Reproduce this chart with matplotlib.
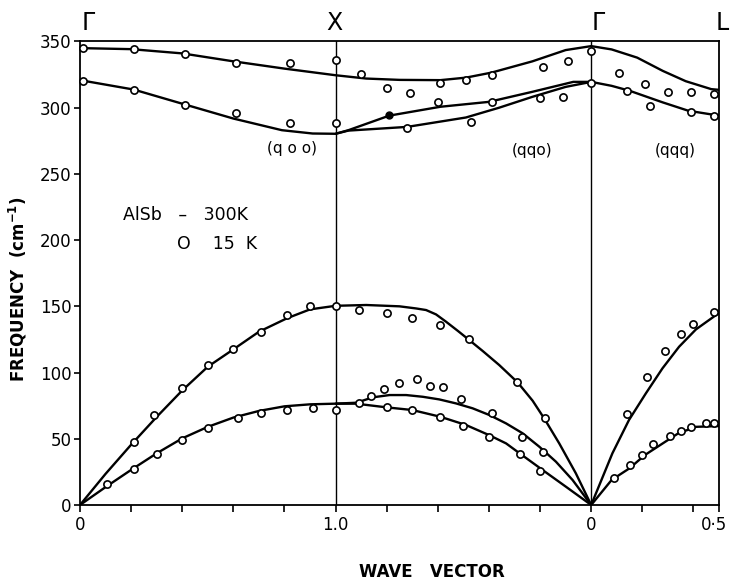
import matplotlib
matplotlib.use("Agg")
import matplotlib.pyplot as plt
from matplotlib.transforms import ScaledTranslation

# wave vector axis: Gamma=0, X=1, Gamma=2, L=2.5
# ---- calculated curves ----
opt_up_x = [0, 0.2, 0.4, 0.6, 0.8, 1.0, 1.12, 1.25, 1.41, 1.51, 1.61, 1.77, 1.9, 2.0,
            2.08, 2.18, 2.28, 2.37, 2.47, 2.5]
opt_up_f = [345, 344.2, 341, 335, 329.5, 324.5, 322, 321, 320.8, 322.7, 326.5, 335, 343.5, 346.5,
            344, 337.8, 327.8, 320, 314, 313.5]

opt_lo_x = [0, 0.21, 0.4, 0.6, 0.79, 0.91, 1.0, 1.05, 1.28, 1.51, 1.64, 1.77, 1.9, 2.0,
            2.08, 2.15, 2.28, 2.38, 2.5]
opt_lo_f = [320.8, 313.7, 303, 291.8, 283, 280.5, 280.3, 282.7, 285.5, 292.6, 300, 308.2, 315.7, 319.5,
            316.5, 312.8, 304, 297.7, 294]

opt_a_x = [1.0, 1.05, 1.21, 1.41, 1.6, 1.77, 1.93, 2.0]
opt_a_f = [280.3, 283, 294, 300.7, 304.4, 312, 319.5, 319.5]

la_x = [0, 0.1, 0.2, 0.3, 0.4, 0.5, 0.6, 0.7, 0.81, 0.9, 1.0, 1.12, 1.25, 1.315, 1.354, 1.393,
        1.432, 1.478, 1.52, 1.576, 1.64, 1.712, 1.771, 1.816, 1.875, 1.94, 2.0,
        2.083, 2.148, 2.214, 2.279, 2.344, 2.41, 2.5]
la_f = [0, 23.5, 45.5, 66.5, 86.5, 104.4, 117.5, 130.8, 141, 147.7, 150.4, 151, 150, 148.4, 147.2, 143.9,
        138.4, 131.5, 125, 116.2, 105.7, 92.6, 78.7, 65.4, 46.5, 23.9, 0,
        39, 64.2, 84.3, 103.2, 119.5, 132.6, 145]

ta_x = [0, 0.1, 0.2, 0.3, 0.4, 0.5, 0.6, 0.7, 0.8, 0.9, 1.0, 1.08, 1.2, 1.3, 1.41, 1.51,
        1.6, 1.667, 1.72, 1.81, 1.901, 2.0, 2.08, 2.15, 2.21, 2.28, 2.34, 2.41, 2.5]
ta_f = [0, 13.5, 26.5, 39, 50.3, 59, 66, 71, 74.5, 76, 76.5, 76.5, 73.7, 71.7, 66.6, 60.4,
        52.8, 46.5, 39, 26.4, 13.8, 0, 18.9, 27.7, 37.7, 46.5, 54, 59, 59.6]

ta2_x = [1.0, 1.081, 1.146, 1.211, 1.276, 1.341, 1.406, 1.471, 1.536, 1.602, 1.667,
         1.732, 1.797, 1.862, 1.927, 2.0]
ta2_f = [76.5, 77.2, 81.3, 83, 83, 81.7, 79.7, 76.7, 73, 67.9, 61.6,
         54.1, 44, 32.7, 18.9, 0]

# ---- measured points at 15 K ----
pts_x = [0.01, 0.21, 0.41, 0.61, 0.82, 1.0,
         1.10, 1.20, 1.29, 1.41, 1.51, 1.61, 1.81, 1.91, 2.0,
         2.11, 2.21, 2.30, 2.39, 2.48,
         0.01, 0.21, 0.41, 0.61, 0.82, 1.0,
         1.28, 1.40, 1.53, 1.61, 1.80, 1.89, 2.0,
         2.14, 2.23, 2.39, 2.48,
         0.21, 0.29, 0.40, 0.50, 0.60, 0.71, 0.81, 0.90, 1.0,
         1.09, 1.20, 1.30, 1.41, 1.52, 1.71, 1.82,
         2.14, 2.22, 2.29, 2.35, 2.40, 2.48,
         0.105, 0.21, 0.30, 0.40, 0.50, 0.62, 0.71, 0.81, 0.91, 1.0,
         1.09, 1.20, 1.30, 1.41, 1.50, 1.60, 1.72, 1.80,
         1.14, 1.19, 1.25, 1.32, 1.37, 1.42, 1.49, 1.61, 1.73, 1.81,
         2.09, 2.15, 2.20, 2.24, 2.31, 2.35, 2.39, 2.45, 2.48]
pts_f = [344.7, 344, 340.2, 334.1, 333.8, 335.8,
         325.8, 314.8, 310.8, 319, 321, 325, 330.8, 335, 342.8,
         326.5, 318, 311.5, 312, 310,
         320.2, 313.2, 302.4, 296, 288.5, 288.5,
         284.4, 304, 289.5, 304, 307, 308, 319,
         312.8, 301, 296.5, 294,
         47.3, 67.7, 88, 105.4, 117.5, 130.6, 143.2, 150.4, 150.2,
         147.2, 144.7, 141, 135.8, 125, 92.6, 65.4,
         69, 96.8, 116, 128.8, 137, 145.9,
         15.8, 27.2, 38.5, 49.3, 58.3, 65.7, 69.7, 71.5, 73, 71.5,
         76.7, 73.7, 71.7, 66.2, 59.8, 51.5, 38.2, 26,
         82.3, 87.3, 92.3, 95, 90, 88.8, 80, 69.7, 51.5, 39.8,
         20.6, 30.2, 37.7, 45.8, 52, 55.8, 59, 62, 62]
dot_x = [1.21]
dot_f = [294.3]

tick_pos = [0, 1.0, 2.0, 2.5]
tick_lab = ["0", "1.0", "0", "0\u00b75"]
minor_pos = [0.2, 0.4, 0.6, 0.8, 1.2, 1.4, 1.6, 1.8, 2.2, 2.4]
sym_pos = [0.005, 0.994, 2.0, 2.485]
sym_lab = ["\u0393", "X", "\u0393", "L"]
sym_ha = ["left", "center", "left", "left"]

fig = plt.figure(figsize=(7.3, 5.85), dpi=100)
ax = fig.add_axes([0.1096, 0.1368, 0.8753, 0.7923])

for xs, fs in [(opt_up_x, opt_up_f), (opt_lo_x, opt_lo_f), (opt_a_x, opt_a_f),
               (la_x, la_f), (ta_x, ta_f), (ta2_x, ta2_f)]:
    ax.plot(xs, fs, color="black", lw=1.7, solid_capstyle="round", solid_joinstyle="round")

ax.plot(pts_x, pts_f, "o", ms=5.2, mfc="white", mec="black", mew=1.2, clip_on=False, zorder=3)
ax.plot(dot_x, dot_f, "o", ms=5, mfc="black", mec="black", zorder=3)

ax.axvline(1.0, color="black", lw=1.0, zorder=1)
ax.axvline(2.0, color="black", lw=1.0, zorder=1)

ax.set_xlim(0, 2.5)
ax.set_ylim(0, 350)
ax.set_xticks(tick_pos)
ax.set_xticklabels(tick_lab, fontsize=12)
ax.set_xticks(minor_pos, minor=True)
ax.set_yticks(range(0, 351, 50))
ax.tick_params(axis="y", direction="out", length=4, width=1.2, labelsize=12, pad=2)
ax.tick_params(axis="x", which="both", direction="out", length=5, width=1.2, labelsize=12, pad=3)
for s in ax.spines.values():
    s.set_linewidth(1.3)

# keep the last label inside the picture
last = ax.get_xticklabels()[-1]
last.set_transform(last.get_transform() + ScaledTranslation(-5 / 100, 0, fig.dpi_scale_trans))

for xp, lab, ha in zip(sym_pos, sym_lab, sym_ha):
    ax.text(xp, 1.04, lab, transform=ax.get_xaxis_transform(), ha=ha, va="center", fontsize=17)

ax.text(0.83, 269, "(q o o)", ha="center", va="center", fontsize=11)
ax.text(1.77, 268, "(qqo)", ha="center", va="center", fontsize=11)
ax.text(2.33, 268, "(qqq)", ha="center", va="center", fontsize=11)
ax.text(0.17, 219, "AlSb   \u2013   300K", ha="left", va="center", fontsize=12.5)
ax.text(0.38, 197, "O    15  K", ha="left", va="center", fontsize=12.5)

fig.text(18 / 730, 1 - 289 / 585, r"FREQUENCY  (cm$^{\mathbf{-1}}$)", rotation=90,
         ha="center", va="center", fontsize=12, fontweight="bold")
fig.text(432 / 730, 1 - 572 / 585, "WAVE   VECTOR", ha="center", va="center",
         fontsize=12, fontweight="bold")

fig.savefig("out.png", dpi=100)
